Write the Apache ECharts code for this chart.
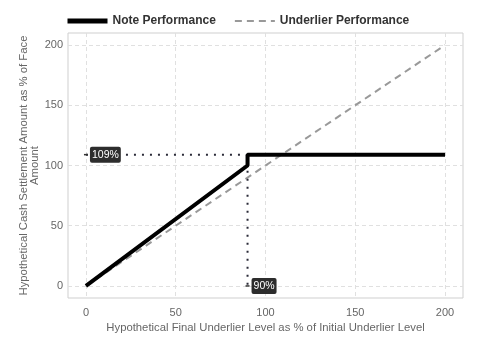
<!DOCTYPE html>
<html><head><meta charset="utf-8">
<script src="https://cdn.jsdelivr.net/npm/echarts@6/dist/echarts.min.js"></script>
<style>html,body{margin:0;padding:0;background:#fff}#c{width:480px;height:360px}</style>
</head><body><div id="c"></div>
<script>
const ticks = [0, 50, 100, 150, 200];
const notePerf = [[0, 0], [90, 100], [90, 109], [200, 109]];
const underlierPerf = [[0, 0], [200, 200]];
const capLine = [[0, 109], [90, 109]];
const barrierLine = [[90, 109], [90, 0]];
const annotations = [[0, 109, '109%'], [90, 0, '90%']];

const chart = echarts.init(document.getElementById('c'));
const axisCommon = {
  type: 'value', min: -10, max: 210,
  axisLine: {show: false}, axisTick: {show: false, customValues: ticks},
  splitLine: {show: true, lineStyle: {color: '#e0e0e0', type: [4, 3], width: 1}},
  nameLocation: 'middle', nameMoveOverlap: false,
  nameTextStyle: {color: '#666', fontSize: 11.3, lineHeight: 11, fontFamily: 'Liberation Sans'}
};
chart.setOption({
  animation: false,
  grid: {left: 68, right: 17, top: 33, bottom: 62, show: true, borderColor: '#cfcfcf', borderWidth: 1},
  legend: {
    top: 10, left: 60, itemWidth: 40, itemHeight: 12, itemGap: 18,
    itemStyle: {opacity: 0, borderWidth: 0},
    data: [
      {name: 'Note Performance', lineStyle: {width: 5, color: '#000'}},
      {name: 'Underlier Performance', lineStyle: {width: 2, color: '#999'}}
    ],
    textStyle: {fontWeight: 'bold', fontSize: 12, color: '#333', fontFamily: 'Liberation Sans'}
  },
  xAxis: Object.assign({}, axisCommon, {
    name: 'Hypothetical Final Underlier Level as % of Initial Underlier Level', nameGap: 24,
    axisLabel: {customValues: ticks, color: '#666', fontSize: 11, margin: 9, fontFamily: 'Liberation Sans'}}),
  yAxis: Object.assign({}, axisCommon, {
    name: 'Hypothetical Cash Settlement Amount as % of Face\nAmount', nameGap: 28,
    axisLabel: {customValues: ticks, color: '#666', fontSize: 11, margin: 5, fontFamily: 'Liberation Sans'}}),
  series: [
    {name: 'Underlier Performance', type: 'line', data: underlierPerf, symbol: 'none',
     lineStyle: {color: '#999', width: 2, type: [7, 5]}, itemStyle: {color: '#999'}, z: 2},
    {name: 'cap', type: 'line', data: capLine, symbol: 'none',
     lineStyle: {color: '#2b2b38', width: 2, type: [2, 6]}, z: 3},
    {name: 'barrier', type: 'line', data: barrierLine, symbol: 'none',
     lineStyle: {color: '#2b2b38', width: 2, type: [2, 6]}, z: 3},
    {name: 'Note Performance', type: 'line', data: notePerf, symbol: 'none',
     lineStyle: {color: '#000', width: 4}, itemStyle: {color: '#000'}, z: 4},
    {name: 'labels', type: 'scatter', data: annotations, symbol: 'rect', symbolSize: [4, 1.5],
     itemStyle: {color: '#333', opacity: 1}, z: 6,
     label: {show: true, position: 'right', distance: 2, formatter: p => p.data[2],
       color: '#fff', backgroundColor: '#2d2d2d', borderRadius: 2, padding: [3, 2, 2, 2],
       fontSize: 10.5, fontFamily: 'Liberation Sans'}}
  ]
});
</script></body></html>
